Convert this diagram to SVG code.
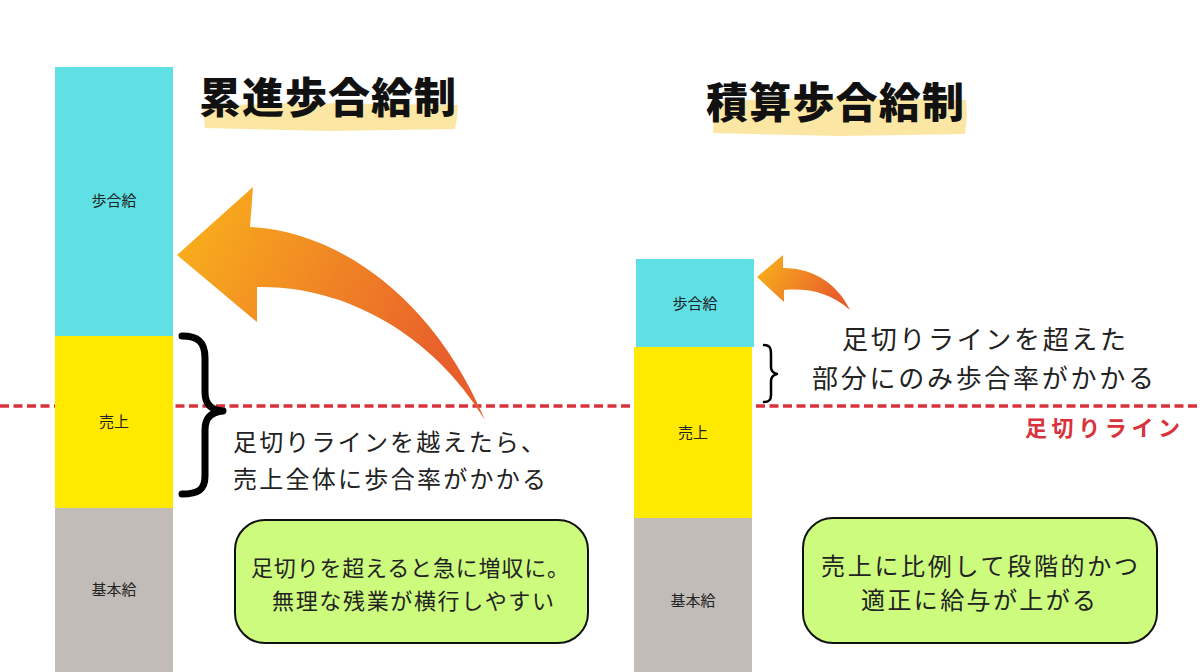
<svg xmlns="http://www.w3.org/2000/svg" width="1200" height="672" viewBox="0 0 1200 672">
<defs>
<linearGradient id="og" x1="0" y1="0" x2="1" y2="0.4">
<stop offset="0" stop-color="#fab51b"/>
<stop offset="1" stop-color="#e85f2b"/>
</linearGradient>
<style>
text{font-family:"Noto Sans CJK JP","Noto Sans",sans-serif;fill:#222}
.bl{font-size:15px;text-anchor:middle}
.title{font-size:42px;font-weight:900;fill:#111}
.body{font-size:24px}
.box{fill:#ccfb7e;stroke:#111;stroke-width:2}
.hl{fill:#fbe7a3}
.cy{fill:#5ee0e5}.ye{fill:#ffe900}.gr{fill:#c1bcb8}
.arrow{fill:url(#og)}
.brace{fill:none;stroke:#000;stroke-linecap:round;stroke-linejoin:round}
</style>
</defs>
<rect width="1200" height="672" fill="#fff"/>
<g id="connectors">
<line x1="0" y1="406" x2="1200" y2="406" stroke="#d9323c" stroke-width="3.5" stroke-dasharray="9 4.5"/>
<path class="arrow" d="M177,255 L253,187 L250,227 C330,230 430,290 485,420 C430,330 340,285 257,287 L257,322 Z"/>
<path class="arrow" d="M757,277 L783,255 L783,268 C815,268 838,285 850,310 C830,293 810,288 784,290 L784,302 Z"/>
</g>
<g id="bar-left">
<rect class="cy" x="55" y="67" width="118" height="269"/>
<rect class="ye" x="55" y="336" width="118" height="172"/>
<rect class="gr" x="55" y="508" width="118" height="164"/>
<text class="bl" x="114" y="206">歩合給</text>
<text class="bl" x="114" y="427">売上</text>
<text class="bl" x="114" y="595">基本給</text>
</g>
<g id="bar-right">
<rect class="cy" x="636" y="259" width="118" height="88"/>
<rect class="ye" x="634" y="347" width="118" height="171"/>
<rect class="gr" x="634" y="518" width="118" height="154"/>
<text class="bl" x="695" y="309">歩合給</text>
<text class="bl" x="693" y="438">売上</text>
<text class="bl" x="693" y="606">基本給</text>
</g>
<g id="title-left">
<path class="hl" d="M203,106 L300,103 L458,105 L457,118 L455,129 L330,131 L205,128 L204,118 Z"/>
<text class="title" x="199" y="113" textLength="257">累進歩合給制</text>
</g>
<g id="title-right">
<path class="hl" d="M712,101 L820,98 L966,100 L967,116 L965,134 L840,136 L713,133 L714,118 Z"/>
<text class="title" x="706" y="118" textLength="258">積算歩合給制</text>
</g>
<g id="brace-left">
<path class="brace" stroke-width="7" d="M182,336 C198,336 205,342 205,358 L205,392 C205,404 211,410 223,411 C211,412 205,418 205,430 L205,476 C205,490 198,494 182,494"/>
</g>
<g id="brace-right">
<path class="brace" stroke-width="2.5" d="M764,345 C770,345 771,348 771,355 L771,367 C771,371 773,373 777,374 C773,375 771,377 771,381 L771,395 C771,400 769,402 764,402"/>
</g>
<g id="note-left">
<text class="body" x="233" y="451" textLength="312">足切りラインを越えたら、</text>
<text class="body" x="233" y="488" textLength="313">売上全体に歩合率がかかる</text>
</g>
<g id="note-right">
<text class="body" x="842" y="349" style="font-size:26px" textLength="284">足切りラインを超えた</text>
<text class="body" x="812" y="388" style="font-size:26px" textLength="342">部分にのみ歩合率がかかる</text>
</g>
<g id="cutoff-label">
<text x="1025" y="436" style="font-size:22px;font-weight:bold;fill:#d9323c" textLength="155">足切りライン</text>
</g>
<g id="box-left">
<rect class="box" x="235" y="520" width="353" height="123" rx="30"/>
<text x="251" y="576" style="font-size:22px" textLength="318">足切りを超えると急に増収に。</text>
<text x="272" y="609" style="font-size:22px" textLength="282">無理な残業が横行しやすい</text>
</g>
<g id="box-right">
<rect class="box" x="803" y="518" width="354" height="125" rx="30"/>
<text x="821" y="575" class="body" textLength="317">売上に比例して段階的かつ</text>
<text x="861" y="609" class="body" textLength="235">適正に給与が上がる</text>
</g>
</svg>
